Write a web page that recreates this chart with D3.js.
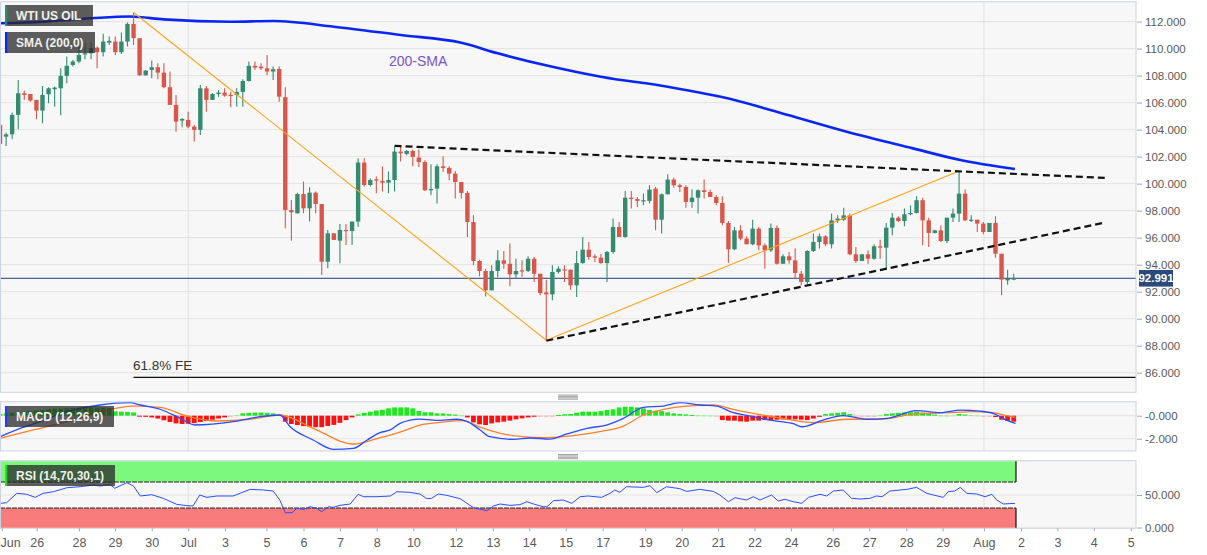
<!DOCTYPE html>
<html><head><meta charset="utf-8">
<script src="https://cdn.jsdelivr.net/npm/d3@7/dist/d3.min.js"></script>
<style>
body{margin:0;background:#fff;}
svg{display:block;font-family:"Liberation Sans",Arial,sans-serif;}
</style></head><body>
<svg id="c" width="1207" height="555"></svg>
<script>
// ---------------- DATA ----------------
const openP = [104.35,103.48,103.65,105.09,106.69,106.64,106.20,105.41,106.62,106.99,107.06,107.98,108.79,109.04,109.58,109.65,110.07,109.73,110.44,110.52,
109.73,110.52,111.83,110.77,108.02,108.42,108.62,108.22,107.14,105.83,104.67,104.72,104.22,103.98,107.06,106.20,106.64,106.74,106.57,106.57,
106.79,107.60,108.72,108.67,108.54,108.30,108.49,106.40,98.05,97.80,99.23,98.17,99.33,98.49,94.22,96.32,95.78,96.57,96.49,97.19,
101.56,99.90,100.32,100.20,100.07,100.27,102.37,102.20,102.42,101.93,101.60,99.51,99.63,101.28,101.16,100.74,100.12,99.31,97.16,94.27,
93.53,92.10,93.53,94.32,94.07,93.28,93.58,93.53,94.44,93.33,91.95,91.80,93.46,93.65,93.63,92.47,94.12,95.11,94.62,94.52,
94.12,94.94,96.79,96.05,98.96,98.86,98.72,98.72,99.63,97.33,99.21,100.30,99.88,99.75,98.64,98.96,99.51,99.38,99.01,98.57,
97.09,95.14,96.54,95.93,95.51,96.67,95.43,95.06,96.72,94.07,94.62,94.32,93.33,92.72,95.01,95.68,96.10,95.51,97.28,97.33,
97.65,94.77,94.27,94.77,94.44,95.36,95.26,96.74,97.48,97.23,97.73,97.83,98.77,97.28,96.35,96.54,95.75,97.48,97.78,99.26,
97.28,97.33,97.04,96.42,97.09,94.81,92.84,92.89];
const highP = [104.47,103.78,105.26,107.68,106.89,106.64,106.20,107.23,107.14,107.19,108.54,109.41,109.16,110.15,110.40,110.44,110.15,111.09,110.89,110.89,
111.19,111.93,112.67,110.77,108.42,109.11,108.91,108.91,108.30,106.57,104.84,105.33,104.35,107.31,107.23,106.69,106.94,107.06,106.81,107.06,
107.73,109.04,109.04,108.91,109.53,108.67,108.67,107.14,98.79,99.33,100.15,99.73,99.41,98.49,96.57,96.32,97.01,97.01,97.19,101.88,
101.88,100.40,100.52,101.26,100.89,102.74,102.74,102.49,102.52,102.52,101.73,101.43,101.43,102.02,101.28,100.94,100.12,99.46,97.65,94.37,
93.70,93.95,95.06,95.01,95.56,94.44,94.32,94.62,94.57,93.33,92.89,93.95,93.88,93.95,93.63,95.01,96.05,95.68,94.77,94.81,
95.01,97.41,97.16,99.46,99.46,99.01,99.26,99.88,99.75,99.26,100.69,100.44,100.00,99.88,99.56,99.56,100.30,99.56,99.14,99.06,
97.23,96.79,96.91,96.10,97.33,96.79,95.56,97.04,96.91,94.77,94.94,95.19,93.53,95.06,96.30,96.30,96.17,97.78,97.65,98.22,
97.78,95.31,94.77,95.06,95.51,95.85,97.09,97.83,97.58,98.15,98.40,99.06,98.96,97.48,96.59,96.91,97.48,98.15,100.94,99.56,
97.65,97.33,97.16,97.09,97.58,94.81,93.63,93.33];
const lowP = [102.86,102.79,103.28,104.02,106.20,106.07,104.77,104.47,105.95,105.70,105.06,107.43,108.67,108.91,109.21,109.21,108.54,109.41,110.27,109.53,
109.60,110.15,110.27,107.98,107.98,107.80,107.73,107.06,105.83,103.85,104.17,104.10,103.11,103.60,105.33,106.20,106.44,106.44,105.65,105.70,
105.70,107.56,108.42,108.42,108.05,107.68,106.07,96.69,95.78,97.80,97.80,97.19,97.80,93.23,93.73,95.83,94.10,95.46,95.46,96.81,
99.78,99.78,99.28,99.41,99.28,99.41,101.63,102.10,101.28,101.23,99.46,99.14,98.52,100.86,100.25,98.89,98.89,96.05,93.95,93.14,
91.65,92.10,93.09,93.70,92.40,92.96,93.09,93.46,92.72,91.73,88.40,91.36,93.33,92.72,92.15,91.60,94.07,94.37,94.20,94.07,
92.72,94.81,96.05,96.00,98.15,98.27,98.40,98.52,96.54,96.30,99.21,99.70,99.38,98.22,98.22,97.78,98.89,99.01,98.40,96.91,
94.15,95.06,95.80,95.51,95.43,95.06,93.70,94.94,94.02,94.07,94.07,92.96,92.47,92.47,94.94,95.19,95.36,95.19,97.09,97.23,
94.69,94.12,94.27,94.07,94.37,94.44,93.63,96.17,97.16,96.84,97.65,97.78,95.43,95.31,96.30,95.68,95.60,97.16,97.16,97.23,
97.16,96.42,96.25,96.42,94.52,91.73,92.52,92.84];
const closeP = [102.94,103.65,105.09,106.69,106.57,106.15,105.41,106.57,107.06,107.11,107.98,108.72,109.04,109.53,109.65,110.02,109.73,110.52,110.57,109.73,
110.52,111.83,110.77,108.02,108.37,108.62,108.22,107.14,105.83,104.59,104.79,104.22,103.98,107.06,106.20,106.64,106.74,106.52,106.49,106.79,
107.60,108.72,108.59,108.54,108.30,108.47,106.44,98.05,97.88,99.23,98.17,99.33,98.49,94.22,96.32,95.83,96.57,96.49,97.19,101.56,
99.90,100.27,100.22,100.07,100.27,102.37,102.25,102.42,101.98,101.60,99.51,99.60,101.28,101.16,100.74,100.12,99.31,97.16,94.27,93.53,
92.10,93.53,94.32,94.07,93.28,93.53,93.53,94.44,93.33,91.90,91.80,93.46,93.70,93.58,92.47,94.12,95.11,94.57,94.52,94.12,
94.94,96.79,96.05,98.96,98.86,98.72,98.77,99.56,97.33,99.21,100.30,99.88,99.75,98.64,98.96,99.51,99.38,99.01,98.57,97.09,
95.14,96.54,95.93,95.51,96.67,95.43,95.06,96.72,94.07,94.62,94.32,93.38,92.72,95.01,95.68,96.10,95.51,97.28,97.41,97.65,
94.77,94.27,94.77,94.44,95.36,95.26,96.74,97.48,97.23,97.73,97.83,98.77,97.28,96.35,96.54,95.75,97.48,97.78,99.26,97.28,
97.33,97.04,96.42,97.09,94.81,92.89,92.96,92.99];

// 200 SMA read at candle positions [candle index, price]
const smaPts = [[0,111.87],[7,111.99],[15,112.24],[21.4,112.37],[27,112.16],[38,111.99],[45,112.04],[55,111.62],[66,111.0],[76,110.43],
[82,109.65],[91,108.65],[99,107.91],[110,107.17],[121,106.19],[128.5,105.25],[139.5,103.84],[150.4,102.61],[158.2,101.75],[167.2,101.08]];

// MACD (12,26,9)
const macdPts = [[0,-1.83],[3.3,-1.1],[6.6,-0.52],[11,0.35],[16.5,0.93],[21.4,1.13],[23.1,0.93],[26.4,0.56],[29.7,-0.23],[32.1,-0.81],
[38.4,-0.52],[42.8,-0.09],[46.1,0.06],[47.8,-0.96],[51.6,-2.11],[54.9,-2.92],[58.2,-2.84],[60.5,-2.11],[62.6,-1.48],[64.3,-1.24],
[65.9,-0.66],[69.2,-0.29],[71.9,-0.4],[75.2,-0.31],[76.9,-0.5],[79.1,-1.24],[80.7,-1.83],[84.6,-2.06],[87.3,-1.94],[90.6,-2.03],
[93.4,-1.59],[96.7,-1.1],[99.9,-0.81],[102.7,-0.23],[106,0.73],[109.3,0.84],[112,1.13],[115.3,0.93],[118.1,0.84],[120.3,0.35],
[124.1,-0.09],[127.4,-0.43],[130.7,-0.7],[132.1,-0.96],[135.6,-0.38],[138.9,0],[142.8,-0.31],[146.1,-0.23],[151,0.44],[154.9,0.26],
[158.2,0.49],[161.4,0.4],[163.6,0.2],[165.8,-0.38],[167.3,-0.67]];
const signalPts = [[0,-1.97],[5.5,-1.24],[11,-0.52],[16.5,0.35],[22,0.84],[26.4,0.73],[30.8,-0.03],[35.7,-0.46],[41.2,-0.31],[46.1,0.06],
[51.6,-1.1],[58.2,-2.46],[62.1,-2.0],[65.9,-1.43],[69.2,-0.81],[72.5,-0.58],[76.3,-0.43],[79.1,-1.0],[82.4,-1.53],[85.7,-1.8],
[90.1,-1.91],[94.4,-1.74],[98.8,-1.39],[102.7,-0.9],[106,0.06],[109.3,0.55],[113.1,0.84],[117.5,0.93],[120.8,0.55],[124.1,0.2],
[128.5,-0.2],[134,-0.61],[139.5,-0.31],[145,-0.31],[150.5,0.14],[156,0.26],[160.3,0.35],[163.6,0.26],[165.8,0],[167.3,-0.14]];
const macdHist = [0.15,0.2,0.25,0.3,0.35,0.4,0.45,0.5,0.55,0.6,
0.62,0.65,0.68,0.7,0.72,0.72,0.7,0.7,0.68,0.38,
0.35,0.33,0.28,-0.08,-0.1,-0.15,-0.25,-0.4,-0.55,-0.67,
-0.72,-0.7,-0.65,-0.55,-0.45,-0.35,-0.25,-0.15,-0.05,0.05,
0.2,0.25,0.27,0.27,0.25,0.2,0.1,-0.52,-0.72,-0.81,
-0.9,-0.96,-1.0,-1.0,-0.9,-0.8,-0.62,-0.38,-0.15,0.12,
0.25,0.35,0.45,0.52,0.64,0.72,0.72,0.72,0.64,0.4,
0.3,0.3,0.2,0.2,0.15,0.1,0.04,-0.15,-0.58,-0.75,
-0.81,-0.67,-0.58,-0.52,-0.43,-0.32,-0.23,-0.15,-0.09,-0.05,
-0.03,-0.02,0.06,0.12,0.15,0.26,0.35,0.35,0.35,0.4,
0.5,0.55,0.72,0.78,0.78,0.72,0.64,0.5,0.43,0.4,
0.29,0.2,0.15,0.12,0.06,0.04,0.03,0.02,-0.03,-0.38,
-0.43,-0.43,-0.5,-0.52,-0.43,-0.43,-0.38,-0.38,-0.35,-0.33,
-0.32,-0.32,-0.35,-0.38,-0.25,-0.1,0.15,0.2,0.25,0.3,
0.15,-0.05,-0.05,-0.03,-0.02,0.05,0.15,0.2,0.25,0.28,
0.3,0.35,0.28,0.2,0.1,0.02,0.02,0.03,0.15,0.1,
0.05,0.03,-0.02,-0.05,-0.12,-0.35,-0.45,-0.52];

// RSI (14,70,30,1)
const rsiPts = [[0,37.2],[1.1,38.2],[2.75,52.6],[4.4,51.1],[5.8,46.4],[7.1,52.6],[8.8,55.1],[11,61.2],[13.2,62.8],[15.4,65.4],
[16.5,63.8],[18.1,66.4],[18.9,60.3],[20.9,69],[22,63.8],[23.1,48.5],[25,50.5],[26.9,44.9],[29.1,35.7],[30.8,33.6],
[31.8,33.1],[32.9,50],[34.1,46.4],[35.7,48.5],[38.4,48.5],[41.2,58.7],[43.4,57.7],[45,56.2],[46.1,42.3],[47,22.8],
[48.1,22.8],[48.9,29.5],[50,28],[51.1,32],[52.2,29.5],[53,24.3],[54.1,32],[54.9,31],[56,34.1],[57.7,36.2],
[59,51.1],[59.9,47.4],[62.1,47.4],[64.3,48.5],[65.4,55.1],[67.5,54.1],[69.2,51.5],[70.3,44.4],[71.1,44.9],[72.2,51.5],
[73.6,49.5],[75.8,44.4],[78,30.5],[80.2,25.9],[81.3,33.1],[82.4,36.2],[84,34.1],[85.7,35.2],[86.8,39.7],[87.9,36.2],
[89.5,32],[90.1,32],[91.2,41.3],[92.8,42.3],[94.2,37.2],[95.6,47.4],[96.9,48.5],[99.1,46.4],[100.5,52.6],[101.3,57.7],
[102.1,54.1],[103.2,62.8],[106,61.8],[107.1,64.4],[108.2,53.6],[109.8,62.8],[112,59.7],[113.1,55.6],[115.3,58.7],[117.5,55.6],
[118.6,50],[120,39.7],[121.1,45.9],[123,42.3],[124.1,47.4],[125.2,42.3],[127.1,50],[128.2,40.8],[129.3,43.4],[130.7,39.7],
[132.1,37.2],[133.2,46.4],[135.1,51.1],[136.2,48.5],[137.3,56.2],[138.9,57.7],[140.3,44.9],[141.7,43.8],[143.3,44.9],[144.4,48.5],
[145.3,47.4],[146.6,56.2],[148.3,57.7],[149.4,58.7],[151,61.8],[152.7,52.6],[154,49.5],[155.4,46.4],[156.2,55.1],[157.3,56.2],
[158.2,61.8],[159.3,52.6],[160.9,51.5],[162.3,47.4],[163.4,51.1],[164.2,42.3],[165.3,36.2],[167.2,37.2]];

// x-axis tick labels and their positions (candle index units)
const tickLabels = ["Jun","26","28","29","30","Jul","3","5","6","7","8","10","12","13","14","15","17","19","20","21","22","24","26","27","28","29","Aug","2","3","4","5"];
const tickPos = [0.3,6.05,13.0,18.95,25.0,31.0,37.07,43.9,50.0,56.0,62.06,68.1,75.1,81.2,87.2,93.2,99.3,106.3,112.3,118.3,124.3,130.3,137.2,143.2,149.3,155.3,162.1,168.2,174.2,180.2,186.3];
const monthPos = [31.0,162.1];

const priceTicks = [86,88,90,92,94,96,98,100,102,104,106,108,110,112];
const macdTicks = [0,-2];
const macdTickLabels = ["-0.000","-2.000"];
const rsiTicks = [50,0];
const rsiTickLabels = ["50.000","0.000"];

const lastPrice = 92.991;
const feLevel = 85.66;
// trend lines: [candle index 1, price 1, candle index 2, price 2]
const orangeLines = [[22,112.67,90,88.40],[90,88.40,158,100.94]];
const dashedLines = [[65,102.8,182,100.42],[90,88.37,182,97.12]];

// ---------------- DRAW ----------------
const svg = d3.select("#c");
const RIGHT = 1136;
const P = {main:[1.7,392.3], macd:[401.7,451], rsi:[460.7,528.3]};
const x = d3.scaleLinear().domain([0,187]).range([0,187*6.07]);
const yMain = d3.scaleLinear().domain([84.55,113.47]).range([P.main[1],P.main[0]]);
const yMacd = d3.scaleLinear().domain([-3.07,1.217]).range([P.macd[1],P.macd[0]]);
const yRsi = d3.scaleLinear().domain([-1.2,102.8]).range([P.rsi[1],P.rsi[0]]);

const defs = svg.append("defs");
function panel(name,[t,b]){
  svg.append("rect").attr("x",0.5).attr("y",t).attr("width",RIGHT-0.5).attr("height",b-t)
    .attr("fill","#f7f7f7").attr("stroke","#cdd3e2").attr("stroke-width",1);
  defs.append("clipPath").attr("id","clip-"+name).append("rect")
    .attr("x",1).attr("y",t+0.5).attr("width",RIGHT-1.5).attr("height",b-t-1);
  const g = svg.append("g").attr("clip-path","url(#clip-"+name+")");
  // month lines
  g.selectAll(null).data(monthPos).enter().append("line")
    .attr("x1",d=>x(d)).attr("x2",d=>x(d)).attr("y1",t).attr("y2",b)
    .attr("stroke","#e1e1e1").attr("stroke-width",1);
  return g;
}
const gMain = panel("main",P.main);
const gMacd = panel("macd",P.macd);
const gRsi = panel("rsi",P.rsi);

// gridlines main
gMain.selectAll(null).data(priceTicks).enter().append("line")
  .attr("x1",0).attr("x2",RIGHT).attr("y1",d=>yMain(d)).attr("y2",d=>yMain(d))
  .attr("stroke","#e4e4e4").attr("stroke-width",1);
gMacd.selectAll(null).data(macdTicks).enter().append("line")
  .attr("x1",0).attr("x2",RIGHT).attr("y1",d=>yMacd(d)).attr("y2",d=>yMacd(d))
  .attr("stroke","#e4e4e4");
gRsi.selectAll(null).data(rsiTicks).enter().append("line")
  .attr("x1",0).attr("x2",RIGHT).attr("y1",d=>yRsi(d)).attr("y2",d=>yRsi(d))
  .attr("stroke","#e4e4e4");

// FE line
gMain.append("line").attr("x1",x(22)).attr("x2",RIGHT).attr("y1",yMain(feLevel)).attr("y2",yMain(feLevel))
  .attr("stroke","#111").attr("stroke-width",1.3);
gMain.append("text").attr("x",x(22)-0.5).attr("y",yMain(feLevel)-7.5).text("61.8% FE")
  .attr("font-size","13.5px").attr("fill","#333");

// last price line
gMain.append("line").attr("x1",0).attr("x2",RIGHT).attr("y1",yMain(lastPrice)).attr("y2",yMain(lastPrice))
  .attr("stroke","#1f3f73").attr("stroke-width",1);

// SMA
const line = d3.line().x(d=>x(d[0])).curve(d3.curveMonotoneX);
gMain.append("path").datum(smaPts).attr("d",line.y(d=>yMain(d[1])))
  .attr("fill","none").attr("stroke","#0a26f2").attr("stroke-width",2.6);
gMain.append("text").attr("x",389).attr("y",66).text("200-SMA").attr("font-size","14px").attr("fill","#7b52cc");

// candles
const idx = d3.range(openP.length);
const UP="#338b70", DN="#d8574a";
gMain.selectAll(".wick").data(idx).enter().append("line")
  .attr("x1",i=>x(i)).attr("x2",i=>x(i)).attr("y1",i=>yMain(highP[i])).attr("y2",i=>yMain(lowP[i]))
  .attr("stroke",i=>closeP[i]>=openP[i]?UP:DN).attr("stroke-width",1.1);
gMain.selectAll(".body").data(idx).enter().append("rect")
  .attr("x",i=>x(i)-2.2).attr("width",4.4)
  .attr("y",i=>yMain(Math.max(openP[i],closeP[i])))
  .attr("height",i=>Math.max(1.2,Math.abs(yMain(openP[i])-yMain(closeP[i]))))
  .attr("fill",i=>closeP[i]>=openP[i]?UP:DN);

// trend lines
gMain.selectAll(".ol").data(orangeLines).enter().append("line")
  .attr("x1",d=>x(d[0])).attr("y1",d=>yMain(d[1])).attr("x2",d=>x(d[2])).attr("y2",d=>yMain(d[3]))
  .attr("stroke","#ffa31a").attr("stroke-width",1.1);
gMain.selectAll(".dl").data(dashedLines).enter().append("line")
  .attr("x1",d=>x(d[0])).attr("y1",d=>yMain(d[1])).attr("x2",d=>x(d[2])).attr("y2",d=>yMain(d[3]))
  .attr("stroke","#111").attr("stroke-width",2.2).attr("stroke-dasharray","7,4");

// MACD histogram
gMacd.selectAll(".hb").data(idx).enter().append("rect")
  .attr("x",i=>x(i)-2.4).attr("width",4.8)
  .attr("y",i=>yMacd(Math.max(0,macdHist[i])))
  .attr("height",i=>Math.max(1,Math.abs(yMacd(macdHist[i])-yMacd(0))))
  .attr("fill",i=>{const v=macdHist[i]; if(Math.abs(v)<0.06) return v>=0?"#8ef08e":"#f5b0b0"; return v>=0?"#1ee81e":"#ff1010";});
gMacd.append("path").datum(signalPts).attr("d",line.y(d=>yMacd(d[1])))
  .attr("fill","none").attr("stroke","#ff7f2a").attr("stroke-width",1.3);
gMacd.append("path").datum(macdPts).attr("d",line.y(d=>yMacd(d[1])))
  .attr("fill","none").attr("stroke","#2a4dff").attr("stroke-width",1.3);

// RSI bands
const bandEnd = x(openP.length-1)+2.3;
gRsi.append("rect").attr("x",0).attr("width",bandEnd).attr("y",yRsi(102.8)).attr("height",yRsi(70)-yRsi(102.8)).attr("fill","#7cf87c");
gRsi.append("rect").attr("x",0).attr("width",bandEnd).attr("y",yRsi(30)).attr("height",yRsi(-1.2)-yRsi(30)).attr("fill","#f87c7c");
[70,30].forEach(v=>gRsi.append("line").attr("x1",0).attr("x2",bandEnd).attr("y1",yRsi(v)).attr("y2",yRsi(v))
  .attr("stroke","#222").attr("stroke-width",1).attr("stroke-dasharray","5,1"));
gRsi.append("line").attr("x1",bandEnd).attr("x2",bandEnd).attr("y1",yRsi(102.8)).attr("y2",yRsi(70)).attr("stroke","#111").attr("stroke-width",1.2);
gRsi.append("line").attr("x1",bandEnd).attr("x2",bandEnd).attr("y1",yRsi(30)).attr("y2",yRsi(-1.2)).attr("stroke","#111").attr("stroke-width",1.2);
gRsi.append("path").datum(rsiPts).attr("d",d3.line().x(d=>x(d[0])).y(d=>yRsi(d[1])))
  .attr("fill","none").attr("stroke","#2d4cff").attr("stroke-width",1);

// label boxes
function labelBox(x0,y0,w,accent,txt){
  svg.append("rect").attr("x",x0).attr("y",y0).attr("width",w).attr("height",21).attr("fill","rgba(40,40,40,0.75)");
  svg.append("rect").attr("x",x0).attr("y",y0).attr("width",2.2).attr("height",21).attr("fill",accent);
  svg.append("text").attr("x",x0+11).attr("y",y0+15).text(txt)
    .attr("font-size","12px").attr("font-weight","bold").attr("fill","#f0f0f0");
}
labelBox(5,5,88,"#2e8b6e","WTI US OIL");
labelBox(5,32,90,"#0a26f2","SMA (200,0)");
labelBox(5,406,109,"#1f3dff","MACD (12,26,9)");
labelBox(5,465,110,"#22e022","RSI (14,70,30,1)");

// handles
[395,454.5].forEach(y0=>{
  [0,1.4,2.8,4.2].forEach(dy=>svg.append("line").attr("x1",558).attr("x2",578).attr("y1",y0+dy).attr("y2",y0+dy)
    .attr("stroke","#8a8a8a").attr("stroke-width",0.8));
});

// right axes
function styleAxis(g){
  g.select(".domain").remove();
  g.selectAll(".tick line").attr("stroke","#a8a8a8");
  g.selectAll(".tick text").attr("fill","#5a5a5a").attr("font-size","11.5px").attr("font-family","Liberation Sans, Arial, sans-serif");
}
svg.append("g").attr("transform",`translate(${RIGHT+1},0)`)
  .call(d3.axisRight(yMain).tickValues(priceTicks).tickFormat(d3.format(".3f")).tickSize(5).tickPadding(3)).call(styleAxis);
svg.append("g").attr("transform",`translate(${RIGHT+1},0)`)
  .call(d3.axisRight(yMacd).tickValues(macdTicks).tickFormat((d,i)=>macdTickLabels[i]).tickSize(5).tickPadding(3)).call(styleAxis);
svg.append("g").attr("transform",`translate(${RIGHT+1},0)`)
  .call(d3.axisRight(yRsi).tickValues(rsiTicks).tickFormat((d,i)=>rsiTickLabels[i]).tickSize(5).tickPadding(3)).call(styleAxis);

// price tag
const yl = yMain(lastPrice);
svg.append("rect").attr("x",RIGHT+3).attr("y",yl-8.3).attr("width",34).attr("height",16.6).attr("fill","#2b4a7c");
svg.append("text").attr("x",RIGHT+20).attr("y",yl+4).attr("text-anchor","middle").text(d3.format(".3f")(lastPrice))
  .attr("font-size","11.5px").attr("font-weight","bold").attr("fill","#fff");

// bottom axis
const gx = svg.append("g").attr("transform",`translate(0,${P.rsi[1]})`)
  .call(d3.axisBottom(x).tickValues(tickPos).tickFormat((d,i)=>tickLabels[i]).tickSize(3).tickPadding(7));
gx.select(".domain").remove();
gx.selectAll(".tick line").attr("stroke","#a8a8a8");
gx.selectAll(".tick text").attr("fill","#5a5a5a").attr("font-size","12.5px").attr("font-family","Liberation Sans, Arial, sans-serif");
gx.select(".tick text").attr("text-anchor","start").attr("x",-1.8);
</script>
</body></html>
